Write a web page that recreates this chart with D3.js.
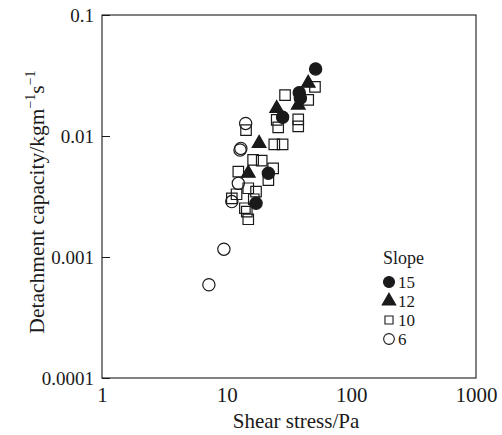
<!DOCTYPE html>
<html><head><meta charset="utf-8">
<script src="https://cdn.jsdelivr.net/npm/d3@7"></script>
<style>body{margin:0;background:#fff}svg{display:block}text{font-family:"Liberation Serif","DejaVu Serif",serif;fill:#1a1a1a}</style>
</head><body><svg id="c" width="502" height="435"></svg>
<script>
const xTicks = [1, 10, 100, 1000];
const yTicks = [0.0001, 0.001, 0.01, 0.1];
const yTickLabels = ["0.0001", "0.001", "0.01", "0.1"];
const seriesNames = ["15", "12", "10", "6"];
// slope 15 (filled circles)
const s15 = [[51.7,0.0358],[38.2,0.0228],[39.0,0.0205],[28.1,0.0143],[21.6,0.00492],[17.2,0.00278]];
// slope 12 (filled triangles)
const s12 = [[45.1,0.0273],[37.5,0.0180],[25.2,0.0169],[18.2,0.00870],[14.9,0.00492]];
// slope 10 (open squares)
const s10 = [[51.1,0.0255],[29.4,0.0218],[45.1,0.0199],[25.2,0.0136],[37.5,0.0137],[37.5,0.0120],[25.9,0.0118],
  [24.1,0.00853],[28.1,0.00853],[16.3,0.00634],[19.1,0.00625],[23.6,0.00541],[21.6,0.00432],[12.4,0.00507],
  [14.9,0.00370],[17.2,0.00347],[11.0,0.00305],[12.0,0.00330],[14.0,0.00253],[14.5,0.00237],[14.9,0.00205],[14.3,0.0112],[16.5,0.00300]];
// slope 6 (open circles)
const s6 = [[14.2,0.0127],[12.8,0.00766],[13.0,0.0079],[12.4,0.00406],[11.0,0.00287],[9.5,0.00116],[7.2,0.00059]];

const svg = d3.select("#c");
const L = 102, R = 476, T = 15, B = 378;
const x = d3.scaleLog().domain([1, 1000]).range([L, R]);
const y = d3.scaleLog().domain([0.0001, 0.1]).range([B, T]);
const ink = "#1a1a1a";
const serif = '"Liberation Serif",serif';

svg.append("rect").attr("x", L).attr("y", T).attr("width", R - L).attr("height", B - T)
  .attr("fill", "none").attr("stroke", ink).attr("stroke-width", 1.1);

const ya = svg.append("g").attr("transform", `translate(${L},0)`)
  .call(d3.axisRight(y).tickValues(yTicks).tickSize(8).tickFormat((d, i) => yTickLabels[i]));
ya.select(".domain").remove();
ya.selectAll("line").attr("stroke", ink);
ya.selectAll("text").attr("x", -8).attr("text-anchor", "end").attr("font-size", 19)
  .style("font-family", serif).attr("fill", ink);

const xa = svg.append("g").attr("transform", `translate(0,${B})`)
  .call(d3.axisTop(x).tickValues(xTicks).tickSize(0).tickFormat(d3.format("d")));
xa.select(".domain").remove();
xa.selectAll("text").attr("y", 24).attr("dy", 0).attr("font-size", 21)
  .style("font-family", serif).attr("fill", ink);

svg.append("text").attr("x", 296).attr("y", 428).attr("text-anchor", "middle")
  .attr("font-size", 21).text("Shear stress/Pa");
const yt = svg.append("text").attr("transform", `translate(44,${202}) rotate(-90)`)
  .attr("text-anchor", "middle").attr("font-size", 21.5);
yt.append("tspan").text("Detachment capacity/kgm");
yt.append("tspan").attr("dy", -9).attr("font-size", 14).text("−1");
yt.append("tspan").attr("dy", 9).text("s");
yt.append("tspan").attr("dy", -9).attr("font-size", 14).text("−1");

const typeOf = {"15": d3.symbolCircle, "12": d3.symbolTriangle, "10": d3.symbolSquare, "6": d3.symbolCircle};
const sizeOf = {"15": 118, "12": 82, "10": 110, "6": 118};
const filled = {"15": true, "12": true, "10": false, "6": false};
const data = {"15": s15, "12": s12, "10": s10, "6": s6};
["10", "6", "12", "15"].forEach(k => {
  svg.append("g").selectAll("path").data(data[k]).join("path")
    .attr("transform", d => `translate(${x(d[0])},${y(d[1])})`)
    .attr("d", d3.symbol().type(typeOf[k]).size(sizeOf[k]))
    .attr("fill", filled[k] ? ink : "none")
    .attr("stroke", ink).attr("stroke-width", 1.2);
});

const lg = svg.append("g");
lg.append("text").attr("x", 383).attr("y", 264).attr("font-size", 18).text("Slope");
const legSize = {"15": 95, "12": 80, "10": 65, "6": 90};
seriesNames.forEach((k, i) => {
  const cy = 282 + i * 19;
  lg.append("path").attr("transform", `translate(389,${cy})`)
    .attr("d", d3.symbol().type(typeOf[k]).size(legSize[k]))
    .attr("fill", filled[k] ? ink : "none").attr("stroke", ink).attr("stroke-width", 1.1);
  lg.append("text").attr("x", 398).attr("y", cy + 6).attr("font-size", 17).text(k);
});
</script></body></html>
